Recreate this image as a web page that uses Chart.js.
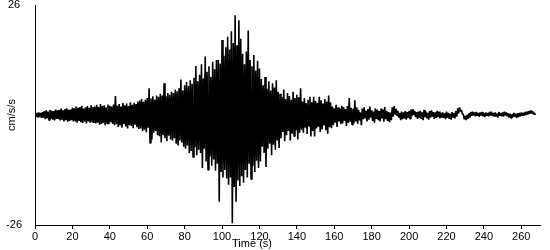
<!DOCTYPE html>
<html>
<head>
<meta charset="utf-8">
<script src="https://cdn.jsdelivr.net/npm/chart.js@4/dist/chart.umd.min.js"></script>
<style>
  html, body { margin: 0; padding: 0; background: #fff; }
  #wrap { width: 550px; height: 250px; }
</style>
</head>
<body>
<div id="wrap"><canvas id="c" width="550" height="250"></canvas></div>
<script>
// Tick labels
const timeTicks = [0, 20, 40, 60, 80, 100, 120, 140, 160, 180, 200, 220, 240, 260];
const valueTicks = [-26, 26];
const xTitle = "Time (s)";
const yTitle = "cm/s/s";

// Ground acceleration (cm/s/s): one positive peak and one negative trough per second, t = 0..267 s
const peaks = [
  0.4,0.5,0.6,0.5,0.7,
  0.9,1.1,0.8,1.2,1.0,0.9,1.3,1.1,
  1.2,1.5,1.1,1.4,1.6,1.2,1.3,1.7,
  1.6,2.0,1.7,1.9,2.2,1.5,1.8,2.1,1.7,2.3,1.9,
  2.0,2.4,1.9,2.6,2.1,2.3,1.8,2.5,2.2,2.0,
  2.5,4.5,2.2,2.6,2.0,2.8,2.3,2.7,2.1,3.0,2.4,2.9,2.6,3.2,
  3.4,3.8,3.1,3.6,4.0,
  6.3,3.9,4.4,3.6,4.6,
  4.3,5.0,4.6,7.5,4.4,5.2,4.8,5.5,
  5.2,6.0,5.6,6.3,8.4,5.8,
  7.0,7.8,6.8,8.2,7.4,8.8,11.6,8.0,
  9.5,12.0,8.6,13.8,10.2,11.5,9.0,12.6,10.8,13.0,
  13.0,12.2,17.7,14.0,
  16.0,18.5,15.5,19.8,17.0,23.6,16.5,22.4,18.0,
  14.5,12.0,15.0,20.0,13.0,11.5,14.2,10.5,12.8,11.0,
  8.5,7.0,9.0,6.2,8.0,5.8,7.5,6.5,8.2,5.5,
  5.0,4.2,6.0,3.8,5.2,4.5,3.6,5.5,4.0,4.8,4.2,
  6.3,3.2,4.0,2.8,3.6,4.3,3.0,4.3,3.3,2.9,4.3,3.5,2.7,3.8,3.2,4.6,3.0,
  2.0,1.6,2.4,1.8,1.5,2.2,1.9,1.4,2.1,4.0,1.7,1.5,3.5,1.8,
  1.2,0.6,1.5,1.8,1.0,1.4,2.0,1.1,0.8,1.6,1.3,0.9,1.5,1.2,1.9,1.0,0.7,
  0.6,1.8,2.1,1.5,1.0,0.5,0.8,0.6,0.9,0.7,1.0,1.3,1.4,1.0,0.7,0.8,
  1.0,0.6,1.2,0.8,0.5,0.9,1.1,0.7,0.6,1.0,0.8,0.5,
  0.6,0.4,0.8,0.5,0.3,0.7,0.5,0.9,
  1.6,1.8,1.2,
  0.2,-0.2,0.0,0.4,
  0.7,0.8,0.6,0.7,0.5,0.6,0.7,0.4,0.6,0.5,0.7,0.8,0.5,0.6,0.4,0.7,0.5,0.6,0.8,0.6,
  0.4,0.3,0.2,0.5,0.3,0.4,0.5,
  0.6,0.5,0.7,0.8,0.9,1.1,0.9,0.5
];
const troughs = [
  -0.4,-0.6,-0.5,-0.7,-0.6,
  -1.0,-0.8,-1.2,-0.9,-1.1,-1.3,-0.9,-1.0,
  -1.3,-1.1,-1.5,-1.2,-1.6,-1.4,-1.2,-1.5,
  -1.5,-1.8,-1.4,-1.7,-1.9,-1.6,-2.0,-1.5,-1.8,-1.6,-1.9,
  -2.0,-1.8,-2.3,-2.1,-1.9,-2.4,-2.0,-2.2,-1.7,-2.1,
  -2.4,-2.2,-2.8,-2.5,-3.0,-2.1,-2.7,-3.2,-2.4,-2.6,-3.1,-2.3,-2.9,-3.3,
  -3.2,-3.8,-3.5,-4.1,-3.0,
  -6.6,-5.8,-4.2,-3.8,-4.8,
  -5.0,-6.5,-4.8,-5.5,-6.2,-4.9,-5.8,-6.0,
  -5.5,-6.8,-7.2,-6.0,-6.5,-7.5,
  -8.0,-7.2,-9.0,-8.5,-10.0,-7.6,-9.5,-8.2,
  -9.0,-12.5,-8.0,-11.0,-13.0,-9.8,-12.0,-10.5,-13.2,-11.5,
  -20.5,-13.5,-14.8,-13.0,
  -15.0,-16.5,-14.8,-25.6,-17.0,-20.5,-15.5,-16.8,-14.5,
  -16.0,-13.0,-14.8,-11.5,-15.2,-12.0,-13.5,-10.8,-12.5,-11.0,
  -7.5,-9.0,-12.3,-8.0,-6.8,-9.5,-7.0,-8.2,-6.0,-7.8,
  -5.5,-4.0,-6.2,-4.8,-3.8,-6.0,-4.4,-5.0,-3.6,-5.8,-4.2,
  -3.5,-4.2,-3.0,-4.5,-2.6,-5.1,-3.8,-5.1,-3.2,-2.8,-4.0,-3.4,-2.5,-3.6,-4.4,-2.9,-3.1,
  -2.4,-1.8,-2.8,-1.5,-2.2,-2.0,-1.4,-2.6,-1.9,-1.6,-2.3,-2.0,-1.5,-2.1,
  -1.3,-2.4,-1.0,-0.8,-1.5,-1.1,-0.6,-1.4,-1.8,-0.9,-1.2,-1.5,-0.8,-1.6,-1.0,-1.4,-1.7,
  -1.2,-0.4,0.2,-0.2,-0.6,-1.2,-1.0,-0.8,-1.1,-0.7,-0.9,-0.3,0.0,-0.5,-0.9,-0.7,
  -0.9,-1.2,-0.5,-0.8,-1.1,-0.6,-0.4,-0.9,-0.7,-0.5,-0.8,-0.6,
  -0.7,-1.0,-0.6,-0.9,-1.1,-0.5,-0.8,-0.4,
  0.4,0.8,0.2,
  -1.0,-1.2,-0.9,-0.6,
  -0.2,-0.1,-0.3,-0.2,-0.4,-0.1,-0.3,-0.5,-0.2,-0.3,-0.1,-0.2,-0.4,-0.3,-0.6,-0.2,-0.3,-0.4,-0.1,-0.3,
  -0.6,-0.7,-0.5,-0.4,-0.7,-0.5,-0.3,
  -0.2,-0.1,0.0,0.1,0.3,0.4,0.2,0.0
];
const sampleStep = 1; // seconds between successive peaks

// Build the library's point table: peak at t, trough half a step later
const points = [];
for (let i = 0; i < peaks.length; i++) {
  points.push({ x: i * sampleStep, y: peaks[i] });
  points.push({ x: i * sampleStep + sampleStep / 2, y: troughs[i] });
}

const FONT = "'Liberation Sans', Arial, sans-serif";

const xTitlePlugin = {
  id: 'xTitle',
  afterDraw(chart) {
    const ctx = chart.ctx;
    ctx.save();
    ctx.font = "11px " + FONT;
    ctx.fillStyle = '#000';
    ctx.textAlign = 'center';
    ctx.textBaseline = 'middle';
    ctx.fillText(xTitle, 252, 244);
    ctx.restore();
  }
};

new Chart(document.getElementById('c'), {
  type: 'line',
  data: {
    datasets: [{
      data: points,
      borderColor: '#000',
      borderWidth: 1.6,
      borderJoinStyle: 'bevel',
      borderCapStyle: 'butt',
      pointRadius: 0,
      tension: 0,
      fill: false
    }]
  },
  options: {
    responsive: false,
    devicePixelRatio: 1,
    animation: false,
    parsing: false,
    normalized: true,
    events: [],
    layout: { padding: { top: 5, right: 10, bottom: 0, left: 0 } },
    plugins: { legend: { display: false }, tooltip: { enabled: false } },
    scales: {
      x: {
        type: 'linear',
        min: 0,
        max: 270,
        afterBuildTicks: s => { s.ticks = timeTicks.map(v => ({ value: v })); },
        afterFit: s => { s.height = 25; },
        border: { display: true, color: '#000', width: 1 },
        grid: { display: true, drawOnChartArea: false, drawTicks: true, tickLength: 4, color: '#000' },
        ticks: { color: '#000', font: { family: FONT, size: 11 }, padding: 1, maxRotation: 0, autoSkip: false },
        title: { display: false }
      },
      y: {
        type: 'linear',
        min: -26,
        max: 26,
        afterBuildTicks: s => { s.ticks = valueTicks.map(v => ({ value: v })); },
        afterFit: s => { s.width = 35; s.paddingTop = 0; s.paddingBottom = 0; },
        border: { display: true, color: '#000', width: 1 },
        grid: { display: true, drawOnChartArea: false, drawTicks: false, color: '#000' },
        ticks: { color: '#000', font: { family: FONT, size: 11 }, padding: 13, crossAlign: 'center' },
        title: { display: true, text: yTitle, color: '#000', font: { family: FONT, size: 11 }, padding: { top: 5, bottom: 0 } }
      }
    }
  },
  plugins: [xTitlePlugin]
});
</script>
</body>
</html>
